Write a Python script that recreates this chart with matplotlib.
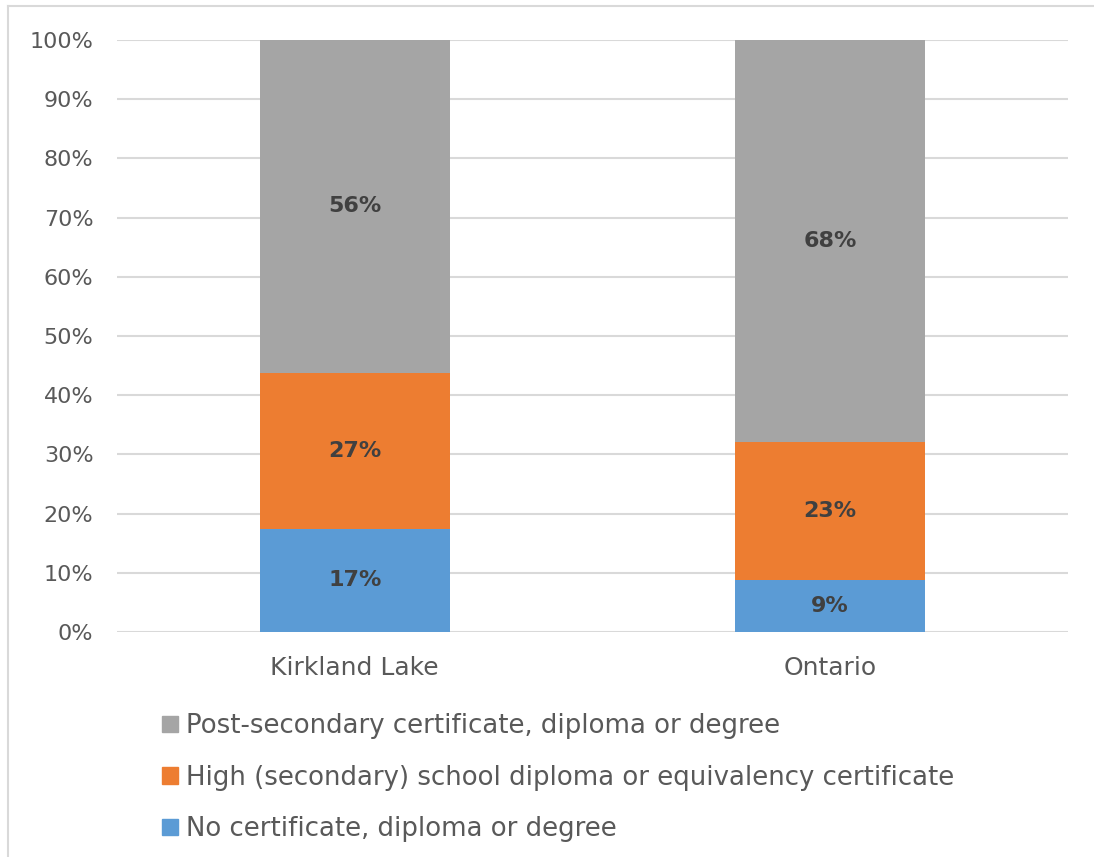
import matplotlib.pyplot as plt
from matplotlib.patches import Patch
from matplotlib.lines import Line2D

places = ["Kirkland Lake", "Ontario"]
no_cert = [17.4, 8.8]
high_school = [26.4, 23.3]
post_sec = [56.2, 67.9]
no_cert_lbl = ["17%", "9%"]
high_lbl = ["27%", "23%"]
post_lbl = ["56%", "68%"]
series_names = ["No certificate, diploma or degree",
                "High (secondary) school diploma or equivalency certificate",
                "Post-secondary certificate, diploma or degree"]

col_blue = "#5B9BD5"
col_orange = "#ED7D31"
col_gray = "#A5A5A5"
txt = "#595959"

plt.rcParams['font.family'] = ['DejaVu Sans']

fig = plt.figure(figsize=(10.94, 8.57), dpi=100)
ax = fig.add_axes([117/1094, 1-632/857, (1068-117)/1094, (632-40)/857])

x = range(len(places))
w = 0.4
ax.bar(x, no_cert, w, color=col_blue, zorder=3)
ax.bar(x, high_school, w, bottom=no_cert, color=col_orange, zorder=3)
bot2 = [a + b for a, b in zip(no_cert, high_school)]
ax.bar(x, post_sec, w, bottom=bot2, color=col_gray, zorder=3)

for i in x:
    ax.text(i, no_cert[i]/2, no_cert_lbl[i], ha="center", va="center",
            fontsize=16, fontweight="bold", color="#404040", zorder=4)
    ax.text(i, no_cert[i] + high_school[i]/2, high_lbl[i], ha="center", va="center",
            fontsize=16, fontweight="bold", color="#404040", zorder=4)
    ax.text(i, bot2[i] + post_sec[i]/2, post_lbl[i], ha="center", va="center",
            fontsize=16, fontweight="bold", color="#404040", zorder=4)

ax.set_xlim(-0.5, 1.5)
ax.set_ylim(0, 100)
ax.set_yticks(range(0, 101, 10))
ax.set_yticklabels([f"{v}%" for v in range(0, 101, 10)])
ax.set_xticks(list(x))
ax.set_xticklabels(places)
ax.tick_params(axis="both", length=0, colors=txt)
ax.tick_params(axis="y", pad=17, labelsize=16)
ax.tick_params(axis="x", pad=17, labelsize=18)
ax.grid(axis="y", color="#D9D9D9", linewidth=1.5, zorder=0)
for s in ax.spines.values():
    s.set_visible(False)

handles = [Patch(color=col_gray), Patch(color=col_orange), Patch(color=col_blue)]
fig.legend(handles, series_names[::-1], loc="upper left",
           bbox_to_anchor=(152/1094, 1-703/857), frameon=False,
           fontsize=18.7, labelcolor=txt, handlelength=0.6, handleheight=0.6,
           handletextpad=0.3, labelspacing=0.98, borderaxespad=0)

# outer chart border (left and top visible)
fig.add_artist(Line2D([8/1094, 8/1094], [0, 1-6/857], transform=fig.transFigure,
                      color="#D9D9D9", linewidth=1.5))
fig.add_artist(Line2D([8/1094, 1], [1-6/857, 1-6/857], transform=fig.transFigure,
                      color="#D9D9D9", linewidth=1.5))

fig.savefig("out.png", dpi=100)
